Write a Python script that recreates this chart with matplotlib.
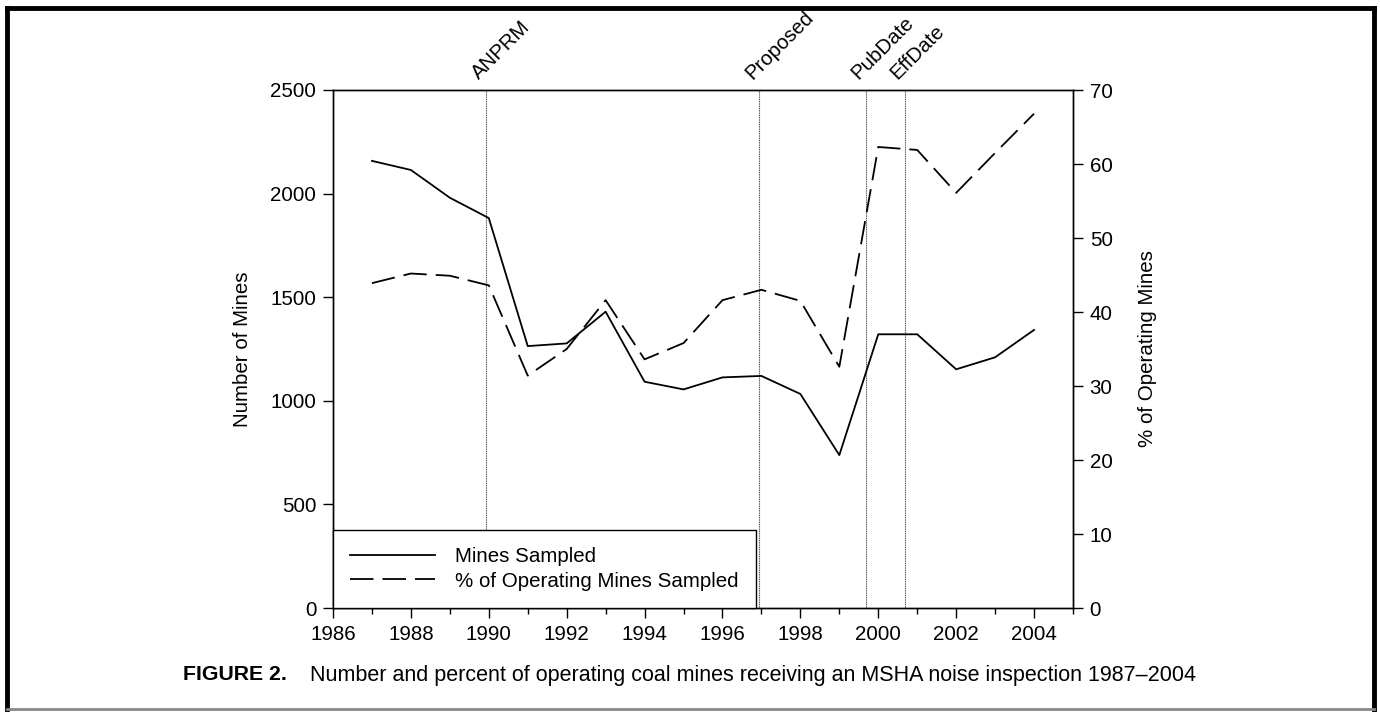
import numpy as np
import matplotlib.pyplot as plt
from matplotlib.lines import Line2D
from matplotlib.ticker import MultipleLocator

plt.rcParams['font.family'] = ['Liberation Sans', 'DejaVu Sans']
plt.rcParams['font.size'] = 14.8

years = [1987, 1988, 1989, 1990, 1991, 1992, 1993, 1994, 1995, 1996,
         1997, 1998, 1999, 2000, 2001, 2002, 2003, 2004]
mines_sampled = [2158, 2114, 1980, 1882, 1264, 1277, 1430, 1092, 1055, 1113,
                 1120, 1033, 738, 1321, 1321, 1152, 1210, 1342]
pct_sampled = [43.9, 45.2, 44.9, 43.6, 31.4, 35.0, 41.6, 33.6, 35.8, 41.6,
               43.0, 41.5, 32.6, 62.3, 61.9, 56.1, 61.5, 66.8]

event_names = ['ANPRM', 'Proposed', 'PubDate', 'EffDate']
event_dates = [1989.92, 1996.95, 1999.68, 2000.68]

fig = plt.figure(figsize=(13.8, 7.12), dpi=100)
ax = fig.add_axes([333/1380, 1-608/712, 740/1380, 518/712])
ax2 = ax.twinx()

for d, name in zip(event_dates, event_names):
    ax.axvline(d, color='#555555', lw=0.8, ls=(0, (1, 0.6)), zorder=1)
    ax.annotate(name, (d, 2500), xytext=(-3, 5), textcoords='offset points',
                rotation=45, rotation_mode='anchor', ha='left', va='bottom',
                annotation_clip=False)

ax.plot(years, mines_sampled, color='black', lw=1.3, label='Mines Sampled')
ax2.plot(years, pct_sampled, color='black', lw=1.3, dashes=(13, 5),
         label='% of Operating Mines Sampled')

ax.set_xlim(1986, 2005)
ax.set_ylim(0, 2500)
ax2.set_ylim(0, 70)
ax.set_xticks(np.arange(1986, 2005, 2))
ax.xaxis.set_minor_locator(MultipleLocator(1))
ax.set_yticks(np.arange(0, 2501, 500))
ax2.set_yticks(np.arange(0, 71, 10))

for a in (ax, ax2):
    a.tick_params(which='major', direction='out', length=7, width=1, pad=5)
    a.tick_params(which='minor', direction='out', length=4, width=1)
    for s in a.spines.values():
        s.set_linewidth(1.0)

ax.set_ylabel('Number of Mines')
ax.yaxis.set_label_coords(-0.11, 0.5)
ax2.set_ylabel('% of Operating Mines', rotation=90)
ax2.yaxis.set_label_coords(1.088, 0.5)

h1, l1 = ax.get_legend_handles_labels()
h2, l2 = ax2.get_legend_handles_labels()
leg = ax2.legend(h1 + h2, l1 + l2, loc='lower left', borderaxespad=0,
                 handlelength=4.1, handletextpad=1.0, fancybox=False,
                 edgecolor='black', framealpha=1, borderpad=0.85,
                 labelspacing=0.25)
leg.get_frame().set_linewidth(1.0)
leg.set_zorder(10)

# caption
fig.text(183/1380, 1-675/712, 'FIGURE 2.', fontweight='bold', va='center',
         fontsize=15.3)
fig.text(310/1380, 1-675/712,
         'Number and percent of operating coal mines receiving an MSHA noise inspection 1987\u20132004',
         va='center', fontsize=15.5)

# outer frame
fig.add_artist(Line2D([7/1380, 1374/1380], [1-8/712, 1-8/712], color='black', lw=3.5))
fig.add_artist(Line2D([7/1380, 7/1380], [1-8/712, 1-709/712], color='black', lw=3.5))
fig.add_artist(Line2D([1374/1380, 1374/1380], [1-8/712, 1-709/712], color='black', lw=3.5))
fig.add_artist(Line2D([7/1380, 1374/1380], [1-709/712, 1-709/712], color='#888888', lw=2))

fig.savefig('out.png', dpi=100)
